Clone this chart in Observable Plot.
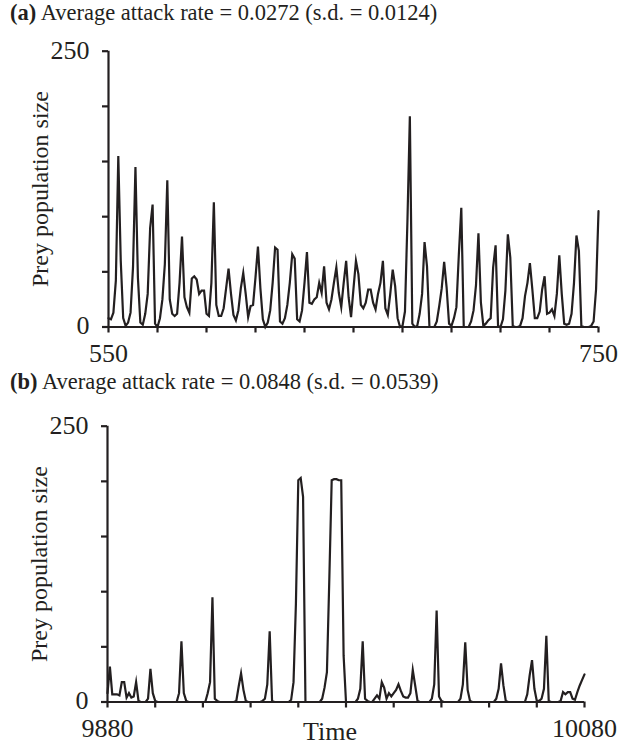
<!DOCTYPE html>
<html>
<head>
<meta charset="utf-8">
<script src="https://cdn.jsdelivr.net/npm/d3@7"></script>
<script src="https://cdn.jsdelivr.net/npm/@observablehq/plot@0.6"></script>
<style>
  body { margin: 0; background: #fff; }
  #wrap { position: relative; width: 620px; height: 746px; overflow: hidden;
          font-family: "Liberation Serif", "Times New Roman", serif; color: #231f20; }
  #wrap svg { position: absolute; left: 0; }
  .title { position: absolute; left: 10px; font-size: 22.5px; line-height: 1; white-space: nowrap; }
  .xlab { position: absolute; font-size: 26px; line-height: 1; transform: translateX(-50%); }
</style>
</head>
<body>
<div id="wrap"></div>
<script>
// Prey population size per time step, panel (a): t = 550 … 750
const startA = 550;
const preyA = [
  8, 7, 13, 42, 155, 60, 8, 1, 4, 13,
  54, 145, 45, 4, 2, 12, 30, 90, 111, 3,
  0, 8, 25, 57, 133, 25, 12, 10, 12, 40,
  82, 27, 18, 13, 44, 46, 43, 30, 33, 33,
  12, 10, 40, 113, 20, 10, 10, 17, 35, 53,
  30, 11, 6, 15, 35, 49, 30, 9, 19, 20,
  45, 73, 35, 7, 0, 4, 15, 40, 72, 70,
  5, 3, 8, 20, 40, 66, 62, 7, 5, 15,
  40, 68, 22, 21, 25, 27, 40, 31, 55, 22,
  16, 25, 40, 54, 31, 18, 40, 60, 27, 9,
  35, 60, 48, 20, 17, 22, 34, 34, 22, 16,
  30, 40, 60, 17, 11, 30, 52, 37, 8, 0,
  1, 14, 95, 191, 3, 0, 1, 12, 30, 77,
  55, 0, 0, 0, 5, 19, 35, 59, 36, 3,
  1, 8, 18, 66, 108, 0, 0, 0, 5, 15,
  38, 85, 22, 1, 3, 6, 8, 54, 74, 1,
  0, 7, 33, 84, 63, 1, 0, 0, 1, 8,
  28, 40, 58, 34, 8, 8, 14, 34, 46, 12,
  13, 16, 10, 30, 65, 30, 3, 2, 3, 12,
  40, 83, 69, 1, 0, 0, 0, 1, 5, 34,
  105
];

// Prey population size per time step, panel (b): t = 9880 … 10080
const startB = 9880;
const preyB = [
  8, 32, 7, 7, 7, 6, 18, 18, 4, 8,
  4, 5, 18, 1, 0, 0, 0, 3, 30, 8,
  1, 0, 0, 0, 0, 0, 0, 0, 0, 0,
  8, 55, 8, 1, 0, 0, 0, 0, 0, 0,
  0, 0, 8, 18, 95, 3, 1, 0, 0, 0,
  0, 0, 0, 0, 1, 14, 26, 11, 1, 0,
  0, 0, 0, 0, 0, 1, 3, 16, 64, 1,
  0, 0, 0, 0, 0, 0, 0, 2, 18, 89,
  201, 203, 186, 0, 0, 0, 0, 0, 0, 0,
  3, 13, 27, 111, 201, 202, 202, 201, 201, 42,
  0, 0, 0, 0, 0, 3, 12, 55, 3, 1,
  0, 0, 3, 6, 3, 18, 13, 3, 8, 5,
  8, 11, 16, 10, 5, 4, 4, 8, 29, 15,
  1, 0, 0, 0, 0, 0, 3, 16, 83, 5,
  1, 0, 0, 0, 0, 0, 0, 0, 3, 16,
  54, 11, 1, 0, 0, 0, 0, 0, 0, 0,
  0, 0, 0, 3, 12, 35, 15, 1, 0, 0,
  0, 0, 0, 0, 0, 0, 7, 24, 38, 12,
  1, 1, 3, 12, 60, 1, 0, 0, 0, 0,
  1, 9, 7, 9, 9, 3, 2, 9, 15, 20,
  25
];

// Axis ticks and labels
const yTicks = [0, 50, 100, 150, 200, 250];
const yLabelled = [0, 250];
const xTicksA = [550, 570, 590, 610, 630, 650, 670, 690, 710, 730, 750];
const xLabelledA = [550, 750];
const xTicksB = [9880, 9900, 9920, 9940, 9960, 9980, 10000, 10020, 10040, 10060, 10080];
const xLabelledB = [9880, 10080];

const titleA = "Average attack rate = 0.0272 (s.d. = 0.0124)";
const titleB = "Average attack rate = 0.0848 (s.d. = 0.0539)";
const yTitle = "Prey population size";
const xTitle = "Time";

const ink = "#231f20";
const tickLen = 6;

function panel({values, start, xTicks, xLabelled, top, height, marginLeft, marginRight, marginTop, marginBottom}) {
  const rows = values.map((v, i) => ({t: start + i, v}));
  const xDomain = [xTicks[0], xTicks[xTicks.length - 1]];
  const innerW = 620 - marginLeft - marginRight;
  const innerH = height - marginTop - marginBottom;
  const svg = Plot.plot({
    width: 620,
    height,
    marginLeft, marginRight, marginTop, marginBottom,
    style: {background: "transparent", fontFamily: "'Liberation Serif', 'Times New Roman', serif", fontSize: "26px", color: ink},
    x: {domain: xDomain, axis: null},
    y: {domain: [0, 250], axis: null},
    marks: [
      // outward tick marks just outside the frame
      Plot.tickY(yTicks, {y: d => d, stroke: ink, strokeWidth: 2.2, insetLeft: -tickLen, insetRight: innerW}),
      Plot.tickX(xTicks, {x: d => d, stroke: ink, strokeWidth: 2.2, insetTop: innerH, insetBottom: -tickLen}),
      // only the end values carry labels
      Plot.text(yLabelled, {x: xDomain[0], y: d => d, text: d => String(d), textAnchor: "end", dx: -19, dy: -1, fontSize: 26, fill: ink}),
      Plot.text(xLabelled, {x: d => d, y: 0, text: d => String(d), textAnchor: "middle", dy: 27, fontSize: 26, fill: ink}),
      Plot.ruleX([xDomain[0]], {y1: 0, y2: 250, stroke: ink, strokeWidth: 2.2}),
      Plot.ruleY([0], {x1: xDomain[0], x2: xDomain[1], stroke: ink, strokeWidth: 2.2}),
      Plot.line(rows, {x: "t", y: "v", stroke: ink, strokeWidth: 2.2, strokeLinejoin: "miter", strokeMiterlimit: 8}),
      Plot.text([yTitle], {text: d => d, frameAnchor: "left", textAnchor: "middle", dx: -68, rotate: -90, fontSize: 24, fill: ink})
    ]
  });
  svg.style.top = top + "px";
  return svg;
}

const wrap = document.getElementById("wrap");

wrap.appendChild(panel({
  values: preyA, start: startA, xTicks: xTicksA, xLabelled: xLabelledA,
  top: 0, height: 370, marginLeft: 108, marginRight: 22, marginTop: 50.7, marginBottom: 43.5
}));
wrap.appendChild(panel({
  values: preyB, start: startB, xTicks: xTicksB, xLabelled: xLabelledB,
  top: 380, height: 366, marginLeft: 107, marginRight: 36, marginTop: 45.7, marginBottom: 44.5
}));

function addTitle(tag, text, top) {
  const div = document.createElement("div");
  div.className = "title";
  div.style.top = top + "px";
  const b = document.createElement("b");
  b.textContent = tag;
  div.appendChild(b);
  div.appendChild(document.createTextNode(" " + text));
  wrap.appendChild(div);
}
addTitle("(a)", titleA, 2);
addTitle("(b)", titleB, 371);

const xl = document.createElement("div");
xl.className = "xlab";
xl.style.left = "330px";
xl.style.top = "719px";
xl.textContent = xTitle;
wrap.appendChild(xl);
</script>
</body>
</html>
